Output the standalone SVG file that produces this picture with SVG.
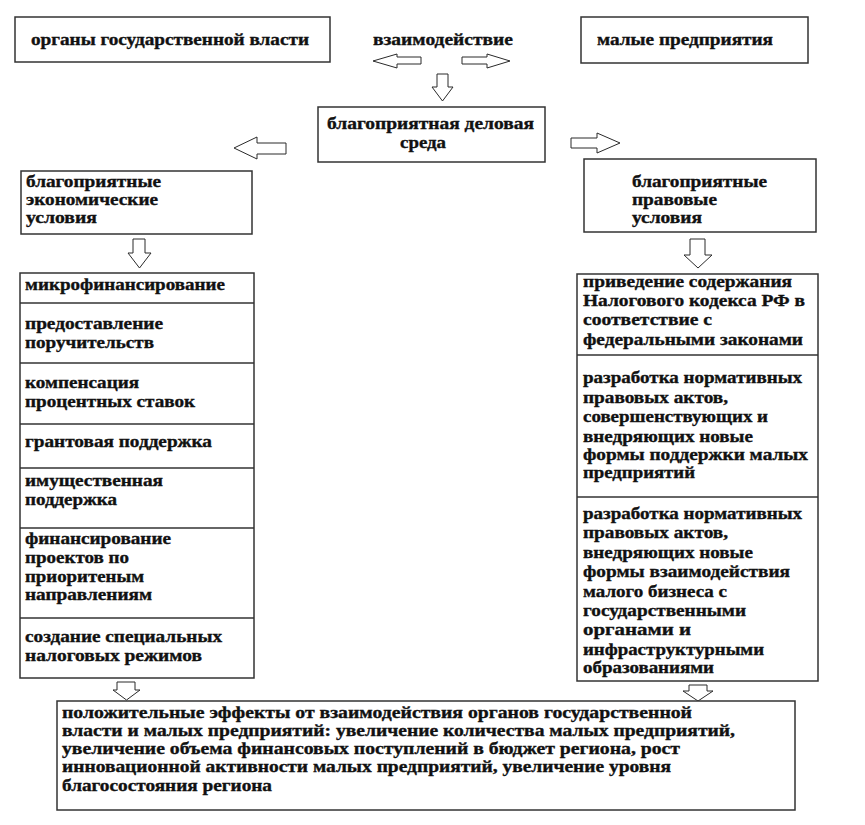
<svg xmlns="http://www.w3.org/2000/svg" width="865" height="825" viewBox="0 0 865 825" font-family="'Liberation Serif', 'DejaVu Serif', serif">
<style>
.box{fill:#fff;stroke:#333;stroke-width:1.5}
.div{stroke:#333;stroke-width:1.5}
.arr{fill:#fff;stroke:#2a2a2a;stroke-width:1}
text{font-family:'Liberation Serif','DejaVu Serif',serif;font-weight:bold;font-size:16.5px;fill:#111;stroke:#111;stroke-width:0.35}
</style>
<rect width="865" height="825" fill="#fff"/>
<g id="connectors">
<path class="arr" d="M373,61 L397,54 L397,57 L421,57 L421,64 L397,64 L397,68 Z"/>
<path class="arr" d="M462,57 L487,57 L487,54 L510,61 L487,68 L487,64 L462,64 Z"/>
<path class="arr" d="M437,74 L448,74 L448,87 L453,87 L442.5,101 L432,87 L437,87 Z"/>
<path class="arr" d="M234,148 L257,137 L257,143 L286,143 L286,154 L257,154 L257,159 Z"/>
<path class="arr" d="M571,138 L597,138 L597,133 L620,143 L597,153 L597,148 L571,148 Z"/>
<path class="arr" d="M133,239 L145,239 L145,253 L151,253 L139.5,268 L128,253 L133,253 Z"/>
<path class="arr" d="M690,239 L705,239 L705,255 L712,255 L698,268 L684,255 L690,255 Z"/>
<path class="arr" d="M117,682 L135,682 L135,690 L140,690 L126.5,700 L113,690 L117,690 Z"/>
<path class="arr" d="M689,685 L707,685 L707,691 L713,691 L698,701 L683,691 L689,691 Z"/>
</g>
<g id="organy">
<rect class="box" x="15" y="17" width="315" height="45"/>
<text x="31" y="45" textLength="278" lengthAdjust="spacingAndGlyphs">органы государственной власти</text>
</g>
<g id="vzaimodeistvie">
<text x="373" y="45" textLength="140" lengthAdjust="spacingAndGlyphs">взаимодействие</text>
</g>
<g id="malye">
<rect class="box" x="581" y="17" width="227" height="46"/>
<text x="597" y="45" textLength="176" lengthAdjust="spacingAndGlyphs">малые предприятия</text>
</g>
<g id="sreda">
<rect class="box" x="318" y="107" width="227" height="55"/>
<text x="327" y="129" textLength="207" lengthAdjust="spacingAndGlyphs">благоприятная деловая</text>
<text x="400" y="148" textLength="46" lengthAdjust="spacingAndGlyphs">среда</text>
</g>
<g id="econ">
<rect class="box" x="21" y="171" width="231" height="63"/>
<text x="26" y="187" textLength="135" lengthAdjust="spacingAndGlyphs">благоприятные</text>
<text x="26" y="205" textLength="132" lengthAdjust="spacingAndGlyphs">экономические</text>
<text x="26" y="223" textLength="71" lengthAdjust="spacingAndGlyphs">условия</text>
</g>
<g id="pravo">
<rect class="box" x="584" y="159" width="232" height="73"/>
<text x="632" y="187" textLength="135" lengthAdjust="spacingAndGlyphs">благоприятные</text>
<text x="632" y="205" textLength="85" lengthAdjust="spacingAndGlyphs">правовые</text>
<text x="632" y="223" textLength="70" lengthAdjust="spacingAndGlyphs">условия</text>
</g>
<g id="econ-list">
<rect class="box" x="20" y="273" width="234" height="405"/>
<line class="div" x1="20" y1="303" x2="254" y2="303"/>
<line class="div" x1="20" y1="363" x2="254" y2="363"/>
<line class="div" x1="20" y1="424" x2="254" y2="424"/>
<line class="div" x1="20" y1="468" x2="254" y2="468"/>
<line class="div" x1="20" y1="528" x2="254" y2="528"/>
<line class="div" x1="20" y1="618" x2="254" y2="618"/>
<text x="25" y="290" textLength="200" lengthAdjust="spacingAndGlyphs">микрофинансирование</text>
<text x="25" y="329" textLength="138" lengthAdjust="spacingAndGlyphs">предоставление</text>
<text x="25" y="348" textLength="129" lengthAdjust="spacingAndGlyphs">поручительств</text>
<text x="25" y="388" textLength="114" lengthAdjust="spacingAndGlyphs">компенсация</text>
<text x="25" y="407" textLength="170" lengthAdjust="spacingAndGlyphs">процентных ставок</text>
<text x="25" y="447" textLength="187" lengthAdjust="spacingAndGlyphs">грантовая поддержка</text>
<text x="25" y="486" textLength="138" lengthAdjust="spacingAndGlyphs">имущественная</text>
<text x="25" y="505" textLength="92" lengthAdjust="spacingAndGlyphs">поддержка</text>
<text x="25" y="544" textLength="146" lengthAdjust="spacingAndGlyphs">финансирование</text>
<text x="25" y="563" textLength="104" lengthAdjust="spacingAndGlyphs">проектов по</text>
<text x="25" y="582" textLength="119" lengthAdjust="spacingAndGlyphs">приоритеным</text>
<text x="25" y="600" textLength="127" lengthAdjust="spacingAndGlyphs">направлениям</text>
<text x="25" y="642" textLength="197" lengthAdjust="spacingAndGlyphs">создание специальных</text>
<text x="25" y="661" textLength="177" lengthAdjust="spacingAndGlyphs">налоговых режимов</text>
</g>
<g id="pravo-list">
<rect class="box" x="577" y="274" width="241" height="407"/>
<line class="div" x1="577" y1="355" x2="818" y2="355"/>
<line class="div" x1="577" y1="497" x2="818" y2="497"/>
<text x="583" y="287" textLength="209" lengthAdjust="spacingAndGlyphs">приведение содержания</text>
<text x="583" y="306" textLength="222" lengthAdjust="spacingAndGlyphs">Налогового кодекса РФ в</text>
<text x="583" y="325" textLength="129" lengthAdjust="spacingAndGlyphs">соответствие с</text>
<text x="583" y="345" textLength="220" lengthAdjust="spacingAndGlyphs">федеральными законами</text>
<text x="583" y="383" textLength="219" lengthAdjust="spacingAndGlyphs">разработка нормативных</text>
<text x="583" y="403" textLength="145" lengthAdjust="spacingAndGlyphs">правовых актов,</text>
<text x="583" y="422" textLength="185" lengthAdjust="spacingAndGlyphs">совершенствующих и</text>
<text x="583" y="442" textLength="170" lengthAdjust="spacingAndGlyphs">внедряющих новые</text>
<text x="583" y="460" textLength="225" lengthAdjust="spacingAndGlyphs">формы поддержки малых</text>
<text x="583" y="478" textLength="112" lengthAdjust="spacingAndGlyphs">предприятий</text>
<text x="583" y="519" textLength="219" lengthAdjust="spacingAndGlyphs">разработка нормативных</text>
<text x="583" y="538" textLength="145" lengthAdjust="spacingAndGlyphs">правовых актов,</text>
<text x="583" y="558" textLength="170" lengthAdjust="spacingAndGlyphs">внедряющих новые</text>
<text x="583" y="577" textLength="207" lengthAdjust="spacingAndGlyphs">формы взаимодействия</text>
<text x="583" y="597" textLength="144" lengthAdjust="spacingAndGlyphs">малого бизнеса с</text>
<text x="583" y="616" textLength="163" lengthAdjust="spacingAndGlyphs">государственными</text>
<text x="583" y="635" textLength="108" lengthAdjust="spacingAndGlyphs">органами и</text>
<text x="583" y="655" textLength="181" lengthAdjust="spacingAndGlyphs">инфраструктурными</text>
<text x="583" y="673" textLength="131" lengthAdjust="spacingAndGlyphs">образованиями</text>
</g>
<g id="effects">
<rect class="box" x="57" y="701" width="738" height="109"/>
<text x="62" y="718" textLength="630" lengthAdjust="spacingAndGlyphs">положительные эффекты от взаимодействия органов государственной</text>
<text x="62" y="736" textLength="673" lengthAdjust="spacingAndGlyphs">власти и малых предприятий: увеличение количества малых предприятий,</text>
<text x="62" y="754" textLength="618" lengthAdjust="spacingAndGlyphs">увеличение объема финансовых поступлений в бюджет региона, рост</text>
<text x="62" y="772" textLength="609" lengthAdjust="spacingAndGlyphs">инновационной активности малых предприятий, увеличение уровня</text>
<text x="62" y="791" textLength="210" lengthAdjust="spacingAndGlyphs">благосостояния региона</text>
</g>
</svg>
